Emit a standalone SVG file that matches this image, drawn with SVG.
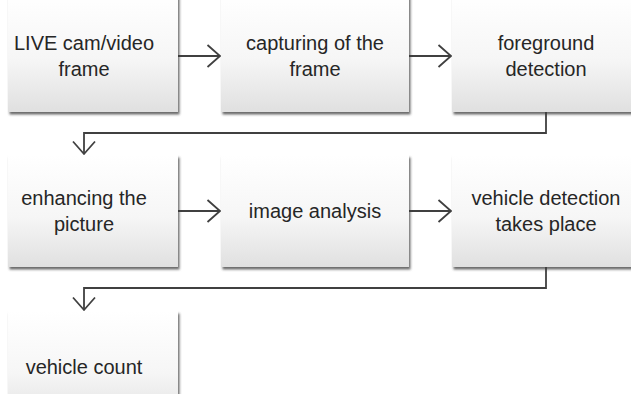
<svg xmlns="http://www.w3.org/2000/svg" width="631" height="394" viewBox="0 0 631 394">
  <style>
    .box { fill: url(#g); filter: url(#sh); }
    .lbl { font-family: "Liberation Sans", Arial, sans-serif; font-size: 20px; fill: #262626; text-anchor: middle; }
    .con { fill: none; stroke: #404040; stroke-width: 1.8; }
  </style>
  <defs>
    <linearGradient id="g" x1="0" y1="0" x2="0" y2="1">
      <stop offset="0" stop-color="#ffffff"/>
      <stop offset="0.55" stop-color="#f6f6f6"/>
      <stop offset="1" stop-color="#e0e0e0"/>
    </linearGradient>
    <filter id="sh" x="-10%" y="-10%" width="120%" height="130%">
      <feDropShadow dx="1.5" dy="2.5" stdDeviation="1.3" flood-color="#3a3a3a" flood-opacity="0.75"/>
    </filter>
    <marker id="ah" markerUnits="userSpaceOnUse" markerWidth="30" markerHeight="30" viewBox="-15 -15 30 30" refX="0" refY="0" orient="auto" overflow="visible">
      <path d="M-12.5,-11 L0,0 L-12.5,11" fill="none" stroke="#404040" stroke-width="1.8"/>
    </marker>
  </defs>
  <rect width="631" height="394" fill="#ffffff"/>

  <g id="connectors">
    <line class="con" x1="178" y1="56" x2="220" y2="56" marker-end="url(#ah)"/>
    <line class="con" x1="409" y1="56" x2="451" y2="56" marker-end="url(#ah)"/>
    <polyline class="con" points="546,112 546,133 84,133 84,154" marker-end="url(#ah)"/>
    <line class="con" x1="178" y1="211" x2="220" y2="211" marker-end="url(#ah)"/>
    <line class="con" x1="409" y1="211" x2="451" y2="211" marker-end="url(#ah)"/>
    <polyline class="con" points="546,267 546,288 84,288 84,310" marker-end="url(#ah)"/>
  </g>

  <g id="n1">
    <rect class="box" x="8" y="-6" width="170" height="118"/>
    <text class="lbl" x="84" y="50">LIVE cam/video</text>
    <text class="lbl" x="84" y="76">frame</text>
  </g>
  <g id="n2">
    <rect class="box" x="221" y="-6" width="188" height="118"/>
    <text class="lbl" x="315" y="50">capturing of the</text>
    <text class="lbl" x="315" y="76">frame</text>
  </g>
  <g id="n3">
    <rect class="box" x="452" y="-6" width="188" height="118"/>
    <text class="lbl" x="546" y="50">foreground</text>
    <text class="lbl" x="546" y="76">detection</text>
  </g>
  <g id="n4">
    <rect class="box" x="8" y="155" width="170" height="112"/>
    <text class="lbl" x="84" y="205">enhancing the</text>
    <text class="lbl" x="84" y="231">picture</text>
  </g>
  <g id="n5">
    <rect class="box" x="221" y="155" width="188" height="112"/>
    <text class="lbl" x="315" y="218">image analysis</text>
  </g>
  <g id="n6">
    <rect class="box" x="452" y="155" width="188" height="112"/>
    <text class="lbl" x="546" y="205">vehicle detection</text>
    <text class="lbl" x="546" y="231">takes place</text>
  </g>
  <g id="n7">
    <rect class="box" x="8" y="311" width="170" height="112"/>
    <text class="lbl" x="84" y="374">vehicle count</text>
  </g>
</svg>
